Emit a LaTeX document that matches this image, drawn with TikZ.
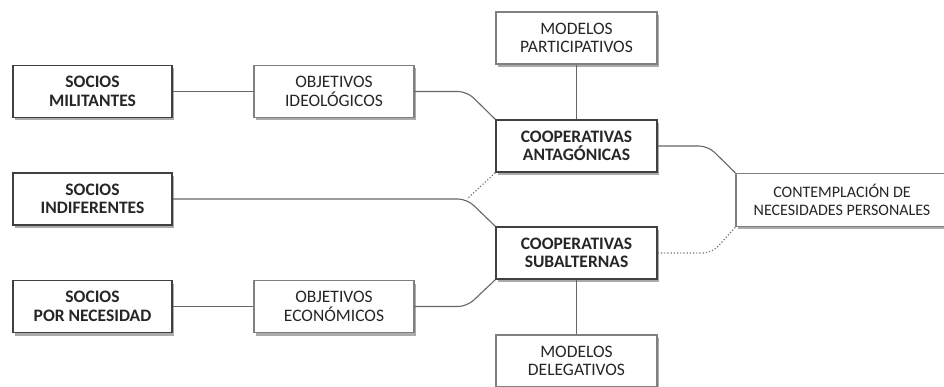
\documentclass[tikz,border=0pt]{standalone}
\usepackage{fontspec}
\setmainfont{Carlito}
\usetikzlibrary{shadows}

\begin{document}
\begin{tikzpicture}[x=1pt, y=1pt,
    every node/.append style={draw, fill=white, align=center, text=black!85,
        font=\fontsize{17.5}{18.5}\selectfont, minimum height=52pt,
        drop shadow={shadow xshift=2pt, shadow yshift=-3pt, fill=black!55, opacity=0.6}},
    boxbold/.style={draw=black!75, line width=1.7pt, font=\fontsize{17.5}{18.5}\selectfont\bfseries},
    boxlight/.style={draw=black!50, line width=1.3pt},
    link/.style={draw=black!60, line width=1.1pt, rounded corners=9pt},
    dotlink/.style={draw=black!55, line width=1.2pt, dotted, rounded corners=9pt}]
        \useasboundingbox (0,0) rectangle (944,-387);

        \node [boxbold, minimum width=159pt] (socM) at (92.5,-91.5) {SOCIOS\\MILITANTES};
        \node [boxbold, minimum width=159pt] (socI) at (92.5,-199) {SOCIOS\\INDIFERENTES};
        \node [boxbold, minimum width=159pt] (socN) at (92.5,-306.5) {SOCIOS\\POR NECESIDAD};
        \node [boxlight, minimum width=160pt] (objI) at (334,-91.5) {OBJETIVOS\\IDEOLÓGICOS};
        \node [boxlight, minimum width=160pt] (objE) at (334,-306.5) {OBJETIVOS\\ECONÓMICOS};
        \node [boxlight, minimum width=161pt] (modP) at (576.5,-38) {MODELOS\\PARTICIPATIVOS};
        \node [boxbold, minimum width=161pt] (coopA) at (576.5,-146) {COOPERATIVAS\\ANTAGÓNICAS};
        \node [boxbold, minimum width=161pt] (coopS) at (576.5,-253) {COOPERATIVAS\\SUBALTERNAS};
        \node [boxlight, minimum width=161pt] (modD) at (576.5,-361) {MODELOS\\DELEGATIVOS};
        \node [boxlight, minimum width=212pt, minimum height=53pt, font=\fontsize{16}{18.5}\selectfont] (cont) at (842,-200) {CONTEMPLACIÓN DE\\NECESIDADES PERSONALES};

        \coordinate (jI) at (467,-91.5);
        \coordinate (jM) at (467,-199);
        \coordinate (jE) at (467,-306.5);
        \coordinate (jA) at (708,-146);
        \coordinate (jS) at (712,-253);

        \draw [link] (socM) -- (objI);
        \draw [link] (socN) -- (objE);
        \draw [link] (objI.east) -- (jI) -- (coopA.north west);
        \draw [link] (socI.east) -- (jM) -- (coopS.north west);
        \draw [link] (objE.east) -- (jE) -- (coopS.south west);
        \draw [dotlink] (coopA.south west) -- (jM);
        \draw [link] (modP) -- (coopA);
        \draw [link] (coopS) -- (modD);
        \draw [link] (coopA.east) -- (jA) -- (cont.north west);
        \draw [dotlink] (coopS.east) -- (jS) -- (cont.south west);
    \end{tikzpicture}
\end{document}
